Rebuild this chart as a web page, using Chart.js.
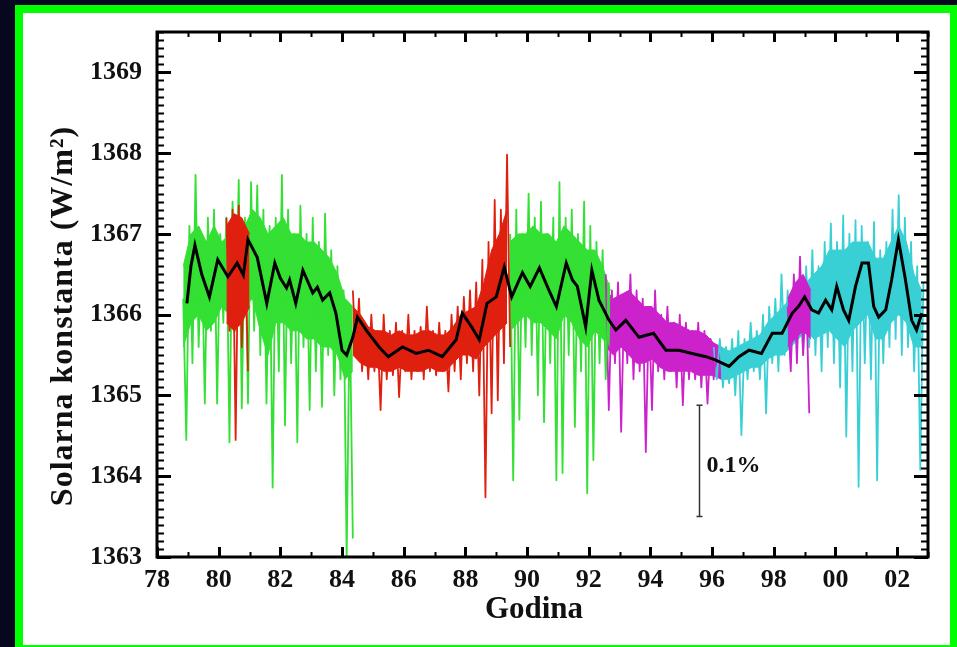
<!DOCTYPE html>
<html>
<head>
<meta charset="utf-8">
<title>Solarna konstanta</title>
<script src="https://cdn.jsdelivr.net/npm/chart.js"></script>
<style>
  html, body { margin: 0; padding: 0; background: #07071f; overflow: hidden; }
  #frame {
    position: absolute; left: 15px; top: 5px;
    width: 927px; height: 632px;
    border: 8px solid #00ff00;
    background: #fff;
  }
  #chart { position: absolute; left: 0; top: 0; }
</style>
</head>
<body>
<div id="frame">
  <canvas id="chart" width="927" height="632"></canvas>
</div>
<script>
// axis setup
const X_MIN = 1978, X_MAX = 2003;
const Y_MIN = 1363, Y_MAX = 1369.5;
const X_TICKS = [1978, 1980, 1982, 1984, 1986, 1988, 1990, 1992, 1994, 1996, 1998, 2000, 2002];
const Y_TICKS = [1363, 1364, 1365, 1366, 1367, 1368, 1369];

// spacing of the raw (noisy) samples and of the dense core band, in years
const STEP = 0.1;
const BAND_STEP = 0.25;

const GREEN = "#33e033", RED = "#e0200f", MAGENTA = "#cc22cc", CYAN_C = "#38d0d4";

// raw composite, split by instrument colour (alternating highs and lows)
const GREEN_A_START = 1978.85;
const GREEN_A = [1366.2, 1364.45, 1367.1, 1365.4, 1367.73, 1365.6, 1366.9, 1364.9, 1367.2, 1365.8,
  1367.3, 1364.9, 1367.0, 1365.9, 1367.2, 1364.42, 1367.4, 1365.8, 1367.67, 1364.84,
  1367.2, 1364.9, 1367.64, 1365.8, 1367.6, 1365.5, 1367.3, 1364.9, 1367.1, 1363.86,
  1367.2, 1365.3, 1367.73, 1364.63, 1367.3, 1365.4, 1367.0, 1364.42, 1367.35, 1365.6,
  1367.0, 1364.82, 1367.2, 1365.3, 1366.9, 1364.86, 1367.25, 1365.5, 1366.8, 1365.0,
  1366.6, 1365.2, 1366.3, 1363.0, 1366.1, 1363.23];

const RED_A_START = 1980.25;
const RED_A = [1367.2, 1365.8, 1367.3, 1364.45, 1367.35, 1365.6, 1367.1, 1365.3];

const RED_B_START = 1984.35;
const RED_B = [1366.3, 1365.5, 1366.2, 1365.3, 1365.9, 1365.2, 1366.0, 1365.3, 1365.8, 1364.82,
  1366.0, 1365.2, 1365.8, 1365.25, 1365.9, 1364.98, 1365.8, 1365.3, 1366.0, 1365.2,
  1365.8, 1365.3, 1365.85, 1365.2, 1366.1, 1365.3, 1365.8, 1365.25, 1365.9, 1365.3,
  1365.8, 1365.05, 1366.0, 1365.3, 1366.1, 1365.2, 1366.22, 1365.4, 1366.3, 1365.3,
  1366.4, 1365.0, 1366.68, 1363.74, 1366.9, 1364.78, 1367.42, 1364.94, 1367.3, 1365.4,
  1367.98, 1365.6];

const GREEN_B_START = 1989.45;
const GREEN_B = [1367.0, 1363.95, 1367.3, 1364.7, 1367.0, 1365.6, 1367.5, 1365.5, 1367.2, 1365.0,
  1367.4, 1364.67, 1367.0, 1365.4, 1367.2, 1363.95, 1367.64, 1364.04, 1367.2, 1365.5,
  1367.3, 1364.61, 1367.0, 1365.3, 1367.4, 1363.79, 1367.1, 1364.2, 1366.9, 1365.4,
  1366.8, 1365.2, 1366.4];

const MAGENTA_A_START = 1992.55;
const MAGENTA_A = [1366.5, 1364.82, 1366.3, 1365.4, 1366.4, 1364.55, 1366.2, 1365.4, 1366.5, 1365.2,
  1366.3, 1365.3, 1366.2, 1364.3, 1366.1, 1364.82, 1366.3, 1365.3, 1366.0, 1365.2,
  1366.1, 1365.3, 1365.9, 1365.1, 1366.0, 1364.88, 1365.9, 1365.2, 1365.8, 1365.2,
  1365.9, 1365.1, 1365.8, 1364.9, 1365.7, 1365.2, 1365.6];

const MAGENTA_B_START = 1998.45;
const MAGENTA_B = [1366.1, 1365.3, 1366.5, 1365.4, 1366.72, 1365.5, 1366.3, 1364.78];

const CYAN_START = 1996.05;
const CYAN = [1365.6, 1365.2, 1365.7, 1365.1, 1365.6, 1365.15, 1365.7, 1365.0, 1365.8, 1364.51,
  1365.7, 1365.2, 1365.9, 1365.3, 1365.8, 1365.2, 1366.0, 1364.78, 1366.1, 1365.4,
  1366.2, 1365.3, 1366.5, 1365.5, 1366.3, 1365.4, 1366.4, 1365.6, 1366.5, 1365.5,
  1366.6, 1365.6, 1366.8, 1365.5, 1366.6, 1365.3, 1366.9, 1365.6, 1367.13, 1365.4,
  1366.9, 1365.1, 1367.23, 1364.49, 1367.0, 1365.3, 1367.17, 1363.87, 1367.1, 1365.4,
  1366.9, 1365.2, 1367.15, 1363.95, 1366.8, 1365.4, 1366.9, 1365.6, 1367.3, 1365.7,
  1367.48, 1365.5, 1367.2, 1365.6, 1366.9, 1365.3, 1366.6, 1364.08, 1366.4];

// dense core of the daily values (upper / lower edge), sampled every BAND_STEP
const GREEN_A_UP = [1366.6, 1367.0, 1367.1, 1366.9, 1367.1, 1366.9, 1367.0, 1367.1, 1367.1, 1367.3,
  1367.2, 1367.0, 1367.1, 1367.2, 1367.0, 1367.0, 1366.9, 1366.9, 1366.8, 1366.7,
  1366.5, 1366.2, 1366.1];
const GREEN_A_LO = [1365.6, 1365.9, 1366.0, 1365.8, 1365.9, 1366.1, 1366.0, 1366.0, 1366.1, 1366.2,
  1365.8, 1365.5, 1365.9, 1365.9, 1365.8, 1365.8, 1365.7, 1365.7, 1365.6, 1365.6,
  1365.5, 1365.2, 1365.3];
const RED_A_UP = [1367.1, 1367.25, 1367.2, 1367.0];
const RED_A_LO = [1365.9, 1365.8, 1365.9, 1366.1];
const RED_B_UP = [1366.1, 1366.0, 1365.85, 1365.8, 1365.8, 1365.75, 1365.8, 1365.75, 1365.75, 1365.8,
  1365.8, 1365.75, 1365.75, 1365.85, 1366.0, 1366.05, 1366.1, 1366.4, 1366.8, 1367.0,
  1367.3];
const RED_B_LO = [1365.5, 1365.4, 1365.35, 1365.35, 1365.3, 1365.3, 1365.35, 1365.3, 1365.3, 1365.3,
  1365.35, 1365.3, 1365.3, 1365.4, 1365.5, 1365.5, 1365.45, 1365.6, 1365.7, 1365.8,
  1365.9];
const GREEN_B_UP = [1366.9, 1367.0, 1367.0, 1367.1, 1367.0, 1367.0, 1366.9, 1367.1, 1367.0, 1366.9,
  1366.8, 1366.8, 1366.6, 1366.3];
const GREEN_B_LO = [1365.8, 1365.9, 1366.0, 1365.9, 1365.9, 1365.8, 1365.7, 1366.0, 1365.9, 1365.7,
  1365.6, 1365.8, 1365.7, 1365.6];
const MAGENTA_A_UP = [1366.3, 1366.2, 1366.25, 1366.3, 1366.2, 1366.1, 1366.1, 1366.0, 1365.9, 1365.9,
  1365.85, 1365.8, 1365.8, 1365.75, 1365.65, 1365.6];
const MAGENTA_A_LO = [1365.6, 1365.5, 1365.6, 1365.5, 1365.4, 1365.4, 1365.45, 1365.35, 1365.3, 1365.3,
  1365.3, 1365.3, 1365.25, 1365.25, 1365.25, 1365.2];
const MAGENTA_B_UP = [1366.2, 1366.4, 1366.5, 1366.3];
const MAGENTA_B_LO = [1365.6, 1365.7, 1365.8, 1365.7];
const CYAN_UP = [1365.6, 1365.6, 1365.55, 1365.6, 1365.65, 1365.7, 1365.75, 1365.9, 1366.0, 1366.1,
  1366.2, 1366.3, 1366.4, 1366.5, 1366.6, 1366.8, 1366.8, 1366.8, 1366.9, 1366.9,
  1366.9, 1366.7, 1366.7, 1366.9, 1367.1, 1366.9, 1366.5, 1366.3];
const CYAN_LO = [1365.25, 1365.2, 1365.2, 1365.25, 1365.3, 1365.35, 1365.35, 1365.45, 1365.5, 1365.5,
  1365.6, 1365.7, 1365.8, 1365.7, 1365.75, 1365.8, 1365.7, 1365.6, 1365.8, 1365.9,
  1366.0, 1365.7, 1365.7, 1365.9, 1366.0, 1365.9, 1365.6, 1365.6];

// running mean (black)
const SMOOTH_YEARS = [1978.97, 1979.1, 1979.23, 1979.45, 1979.7, 1979.97, 1980.3, 1980.6, 1980.8, 1980.95,
  1981.25, 1981.56, 1981.82, 1982.0, 1982.2, 1982.3, 1982.5, 1982.73, 1983.05, 1983.2,
  1983.37, 1983.6, 1983.8, 1984.0, 1984.15, 1984.35, 1984.5, 1984.8, 1985.2, 1985.5,
  1985.96, 1986.4, 1986.8, 1987.25, 1987.7, 1987.9, 1988.2, 1988.45, 1988.7, 1989.0,
  1989.26, 1989.5, 1989.85, 1990.1, 1990.4, 1990.7, 1990.95, 1991.27, 1991.47, 1991.63,
  1991.9, 1992.1, 1992.33, 1992.66, 1992.88, 1993.2, 1993.63, 1994.1, 1994.5, 1994.93,
  1995.35, 1995.8, 1996.1, 1996.55, 1996.87, 1997.2, 1997.6, 1997.95, 1998.27, 1998.6,
  1998.8, 1999.0, 1999.23, 1999.45, 1999.68, 1999.88, 2000.04, 2000.26, 2000.43, 2000.65,
  2000.86, 2001.07, 2001.24, 2001.4, 2001.63, 2001.82, 2002.04, 2002.27, 2002.47, 2002.63,
  2002.8];
const SMOOTH_VALUES = [1366.14, 1366.6, 1366.86, 1366.5, 1366.22, 1366.68, 1366.47, 1366.64, 1366.49, 1366.93,
  1366.71, 1366.14, 1366.64, 1366.45, 1366.33, 1366.43, 1366.14, 1366.55, 1366.27, 1366.34,
  1366.18, 1366.27, 1366.02, 1365.56, 1365.5, 1365.72, 1365.97, 1365.8, 1365.6, 1365.48,
  1365.6, 1365.52, 1365.56, 1365.48, 1365.69, 1366.02, 1365.85, 1365.69, 1366.14, 1366.22,
  1366.59, 1366.22, 1366.52, 1366.35, 1366.58, 1366.31, 1366.1, 1366.64, 1366.43, 1366.35,
  1365.85, 1366.55, 1366.18, 1365.93, 1365.81, 1365.93, 1365.72, 1365.77, 1365.56, 1365.56,
  1365.52, 1365.48, 1365.44, 1365.36, 1365.48, 1365.56, 1365.52, 1365.77, 1365.77, 1366.02,
  1366.1, 1366.22, 1366.06, 1366.02, 1366.18, 1366.06, 1366.35, 1366.06, 1365.93, 1366.35,
  1366.64, 1366.64, 1366.1, 1365.97, 1366.06, 1366.43, 1366.93, 1366.43, 1365.93, 1365.81,
  1366.02];

// 0.1% scale bar
const BAR_YEAR = 1995.57;
const BAR_LOW = 1363.5;
const BAR_HIGH = 1364.88;
const BAR_LABEL = "0.1%";
const BAR_LABEL_Y = 1364.13;

const X_TITLE = "Godina";
const Y_TITLE = "Solarna konstanta (W/m²)";

const SERIF = "'Liberation Serif', 'Times New Roman', serif";

function series(start, step, vals) {
  return vals.map((v, i) => ({ x: start + i * step, y: v }));
}

function rawSet(start, vals, color, order) {
  return {
    data: series(start, STEP, vals), borderColor: color, borderWidth: 1.8, pointRadius: 0,
    tension: 0, borderJoinStyle: "round", fill: false, order: order
  };
}

// two datasets: upper edge filled down to the lower edge
function bandSets(start, up, lo, color, order) {
  return [
    { data: series(start, BAND_STEP, up), borderColor: color, backgroundColor: color,
      borderWidth: 1, pointRadius: 0, tension: 0, fill: "+1", order: order },
    { data: series(start, BAND_STEP, lo), borderColor: color, backgroundColor: color,
      borderWidth: 1, pointRadius: 0, tension: 0, fill: false, order: order }
  ];
}

// frame, inward ticks, titles and the scale bar
const framePlugin = {
  id: "frame",
  afterDraw(chart) {
    const ctx = chart.ctx;
    const a = chart.chartArea;
    const xs = chart.scales.x, ys = chart.scales.y;
    ctx.save();
    ctx.strokeStyle = "#000";
    ctx.lineCap = "butt";

    for (let i = 0; i <= 65; i++) {
      const py = Math.round(ys.getPixelForValue(Y_MIN + i / 10)) + 0.5;
      const major = i % 10 === 0;
      const len = major ? 14 : 7;
      ctx.lineWidth = major ? 3 : 2;
      ctx.beginPath();
      ctx.moveTo(a.left, py); ctx.lineTo(a.left + len, py);
      ctx.moveTo(a.right, py); ctx.lineTo(a.right - len, py);
      ctx.stroke();
    }
    for (let yr = X_MIN; yr <= X_MAX; yr++) {
      const px = Math.round(xs.getPixelForValue(yr)) + 0.5;
      const major = yr % 2 === 0;
      const len = major ? 10 : 5;
      ctx.lineWidth = major ? 3 : 2;
      ctx.beginPath();
      ctx.moveTo(px, a.bottom); ctx.lineTo(px, a.bottom - len);
      ctx.moveTo(px, a.top); ctx.lineTo(px, a.top + len);
      ctx.stroke();
    }

    ctx.lineWidth = 3;
    ctx.strokeRect(a.left, a.top, a.right - a.left, a.bottom - a.top);

    // scale bar
    const bx = Math.round(xs.getPixelForValue(BAR_YEAR)) + 0.5;
    const by1 = ys.getPixelForValue(BAR_HIGH), by2 = ys.getPixelForValue(BAR_LOW);
    ctx.strokeStyle = "#333";
    ctx.lineWidth = 1.5;
    ctx.beginPath();
    ctx.moveTo(bx, by1); ctx.lineTo(bx, by2);
    ctx.moveTo(bx - 3, by1); ctx.lineTo(bx + 3, by1);
    ctx.moveTo(bx - 3, by2); ctx.lineTo(bx + 3, by2);
    ctx.stroke();
    ctx.fillStyle = "#111";
    ctx.font = "bold 24px " + SERIF;
    ctx.textAlign = "left";
    ctx.textBaseline = "middle";
    ctx.fillText(BAR_LABEL, bx + 7, ys.getPixelForValue(BAR_LABEL_Y));

    // axis titles
    ctx.font = "bold 31px " + SERIF;
    ctx.textAlign = "center";
    ctx.textBaseline = "alphabetic";
    ctx.fillText(X_TITLE, 511, 605);
    ctx.translate(49, 303);
    ctx.rotate(-Math.PI / 2);
    ctx.font = "bold 32px " + SERIF;
    ctx.letterSpacing = "1px";
    ctx.fillText(Y_TITLE, 0, 0);
    ctx.restore();
  }
};

const tickFont = { family: SERIF, size: 26, weight: "bold" };

new Chart(document.getElementById("chart"), {
  type: "line",
  data: {
    datasets: [
      {
        data: SMOOTH_YEARS.map((yr, i) => ({ x: yr, y: SMOOTH_VALUES[i] })),
        borderColor: "#000", borderWidth: 3, pointRadius: 0, tension: 0, fill: false, order: 0
      },
      rawSet(RED_A_START, RED_A, RED, 1),
      rawSet(MAGENTA_B_START, MAGENTA_B, MAGENTA, 1),
      rawSet(GREEN_A_START, GREEN_A, GREEN, 2),
      rawSet(RED_B_START, RED_B, RED, 2),
      rawSet(GREEN_B_START, GREEN_B, GREEN, 2),
      rawSet(MAGENTA_A_START, MAGENTA_A, MAGENTA, 2),
      rawSet(CYAN_START, CYAN, CYAN_C, 3),
      ...bandSets(RED_A_START, RED_A_UP, RED_A_LO, RED, 1.5),
      ...bandSets(MAGENTA_B_START, MAGENTA_B_UP, MAGENTA_B_LO, MAGENTA, 1.5),
      ...bandSets(GREEN_A_START, GREEN_A_UP, GREEN_A_LO, GREEN, 4),
      ...bandSets(RED_B_START, RED_B_UP, RED_B_LO, RED, 4),
      ...bandSets(GREEN_B_START, GREEN_B_UP, GREEN_B_LO, GREEN, 4),
      ...bandSets(MAGENTA_A_START, MAGENTA_A_UP, MAGENTA_A_LO, MAGENTA, 4),
      ...bandSets(CYAN_START, CYAN_UP, CYAN_LO, CYAN_C, 4)
    ]
  },
  options: {
    responsive: false,
    animation: false,
    layout: { padding: { top: 19, right: 22, left: 0, bottom: 0 } },
    plugins: { legend: { display: false }, tooltip: { enabled: false } },
    scales: {
      x: {
        type: "linear", min: X_MIN, max: X_MAX,
        grid: { display: false, drawTicks: false },
        border: { display: false },
        afterBuildTicks: s => { s.ticks = X_TICKS.map(v => ({ value: v })); },
        afterFit: s => { s.height = 88; s.paddingLeft = 0; s.paddingRight = 0; },
        ticks: {
          color: "#111", font: tickFont, padding: 8, maxRotation: 0,
          callback: v => String(v % 100).padStart(2, "0")
        }
      },
      y: {
        type: "linear", min: Y_MIN, max: Y_MAX,
        grid: { display: false, drawTicks: false },
        border: { display: false },
        afterBuildTicks: s => { s.ticks = Y_TICKS.map(v => ({ value: v })); },
        afterFit: s => { s.width = 134; s.paddingTop = 0; s.paddingBottom = 0; },
        ticks: { color: "#111", font: tickFont, padding: 15, callback: v => String(v) }
      }
    }
  },
  plugins: [framePlugin]
});
</script>
</body>
</html>
